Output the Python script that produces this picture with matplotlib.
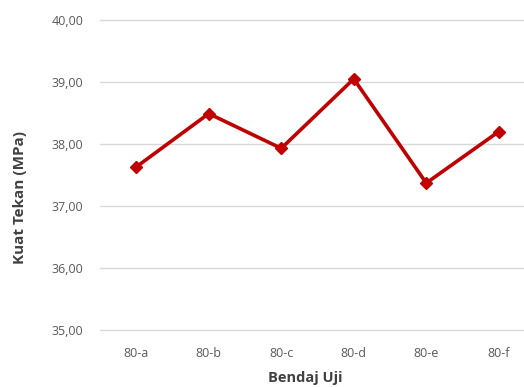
import matplotlib
matplotlib.use("Agg")
import matplotlib.pyplot as plt

categories = ["80-a", "80-b", "80-c", "80-d", "80-e", "80-f"]
values = [37.63, 38.49, 37.93, 39.05, 37.37, 38.20]
yticks = [35, 36, 37, 38, 39, 40]
ytick_labels = ["35,00", "36,00", "37,00", "38,00", "39,00", "40,00"]

plt.rcParams['font.family'] = ['Open Sans', 'DejaVu Sans']

fig = plt.figure(figsize=(5.24, 3.87), dpi=100)
ax = fig.add_axes([100/524, 57/387, 435/524, 310/387])

x = list(range(len(categories)))
ax.plot(x, values, color="#C00000", lw=2.6, marker="D", markersize=6.5, zorder=3)

ax.set_xlim(-0.5, len(categories) - 0.5)
ax.set_ylim(35, 40)
ax.set_yticks(yticks)
ax.set_yticklabels(ytick_labels)
ax.set_xticks(x)
ax.set_xticklabels(categories)
ax.grid(axis="y", color="#d9d9d9", lw=1.0)
for gl in ax.get_ygridlines():
    gl.set_clip_on(False)
ax.set_axisbelow(True)
for s in ax.spines.values():
    s.set_visible(False)
ax.tick_params(axis="both", length=0, labelsize=9, labelcolor="#595959")
ax.tick_params(axis="x", pad=12)
ax.tick_params(axis="y", pad=12)

fig.text(305/524, 1 - 378/387, "Bendaj Uji", ha="center", va="center",
         fontsize=10.5, fontweight="bold", color="#404040")
fig.text(20/524, 1 - 198/387, "Kuat Tekan (MPa)", ha="center", va="center",
         rotation=90, fontsize=11, fontweight="bold", color="#404040")

fig.savefig("out.png", dpi=100)
